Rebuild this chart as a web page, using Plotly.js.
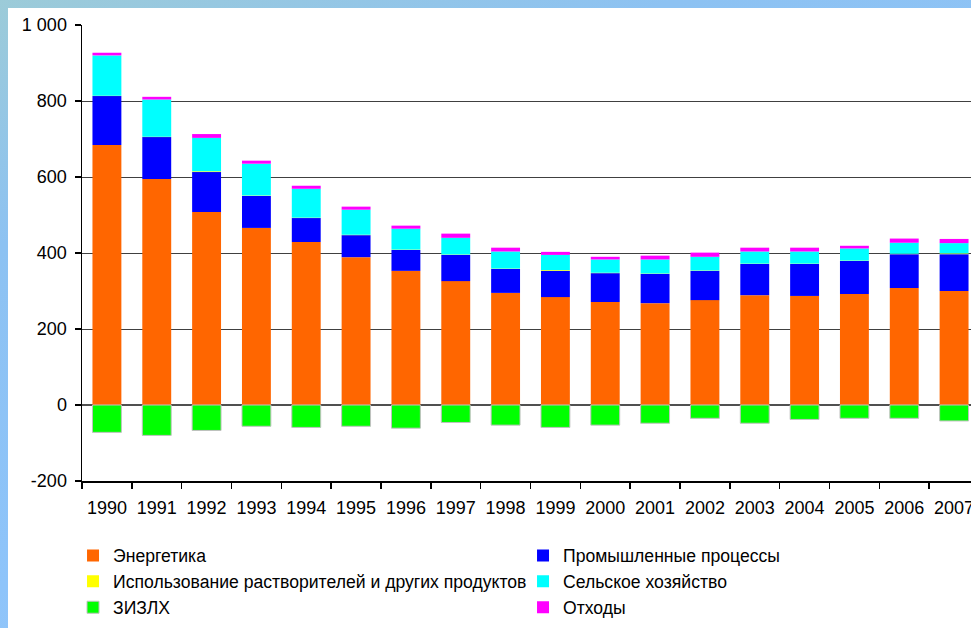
<!DOCTYPE html>
<html>
<head>
<meta charset="utf-8">
<script src="https://cdn.plot.ly/plotly-3.0.1.min.js"></script>
<style>
  html, body {
    margin: 0;
    padding: 0;
    width: 971px;
    height: 628px;
    overflow: hidden;
    background: linear-gradient(160deg, #9ccbd8 0%, #8dc2f2 25%, #8ec4fa 60%, #9fcaf2 100%);
  }
  #chart {
    position: absolute;
    left: 8px;
    top: 8px;
    width: 990px;
    height: 620px;
  }
</style>
</head>
<body>
<div id="chart"></div>
<script>
const years = ['1990', '1991', '1992', '1993', '1994', '1995', '1996', '1997', '1998',
  '1999', '2000', '2001', '2002', '2003', '2004', '2005', '2006', '2007'];

const energy = [684, 595, 508, 466, 429, 389, 353, 326, 295, 284, 271, 268, 276, 289, 287, 292, 308, 300];
const industry = [129, 110, 105, 84, 63, 58, 55, 69, 63, 69, 76, 77, 77, 82, 84, 87, 89, 97];
const solvents = [1, 1, 2, 1, 1, 1, 1, 1, 1, 2, 1, 1, 1, 1, 1, 1, 1, 2];
const agriculture = [106, 98, 88, 84, 76, 66, 55, 44, 45, 40, 35, 37, 36, 32, 32, 32, 29, 27];
const lulucf = [-72, -80, -67, -56, -59, -56, -61, -46, -53, -59, -53, -48, -35, -48, -38, -35, -35, -42];
const waste = [7, 7, 10, 8, 8, 8, 8, 11, 10, 8, 7, 10, 11, 10, 10, 7, 11, 11];

const yTicks = [-200, 0, 200, 400, 600, 800, 1000];
const yTickText = ['-200', '0', '200', '400', '600', '800', '1 000'];

const fontFamily = '"Liberation Sans", Arial, sans-serif';

function barTrace(name, values, color, lineColor) {
  return {
    type: 'bar',
    name: name,
    x: years,
    y: values,
    marker: {
      color: color,
      line: { color: lineColor || color, width: lineColor ? 1 : 0 }
    },
    hoverinfo: 'x+y+name'
  };
}

// order matters: stacking from the bottom and legend reading order (2 per row)
const traces = [
  barTrace('Энергетика', energy, '#FF6600'),
  barTrace('Промышленные процессы', industry, '#0000FF'),
  barTrace('Использование растворителей и других продуктов', solvents, '#FFFF00'),
  barTrace('Сельское хозяйство', agriculture, '#00FFFF'),
  barTrace('ЗИЗЛХ', lulucf, '#00FF00', '#C0C0C0'),
  barTrace('Отходы', waste, '#FF00FF')
];

const layout = {
  width: 990,
  height: 620,
  margin: { l: 74, r: 19, t: 17, b: 147, autoexpand: false },
  paper_bgcolor: '#FFFFFF',
  plot_bgcolor: '#FFFFFF',
  barmode: 'relative',
  bargap: 0.42,
  font: { family: fontFamily, size: 18, color: '#000000' },
  showlegend: true,
  legend: {
    orientation: 'h',
    traceorder: 'normal',
    x: -0.01,
    xanchor: 'left',
    y: -0.124,
    yanchor: 'top',
    entrywidth: 405,
    entrywidthmode: 'pixels',
    font: { family: fontFamily, size: 17.6, color: '#000000' },
    bgcolor: 'rgba(0,0,0,0)'
  },
  xaxis: {
    type: 'category',
    tickson: 'boundaries',
    ticks: 'outside',
    ticklen: 6,
    tickwidth: 1.5,
    tickcolor: '#000000',
    showline: true,
    linecolor: '#000000',
    linewidth: 1.5,
    showgrid: false,
    ticklabelstandoff: 10,
    tickfont: { family: fontFamily, size: 18, color: '#000000' }
  },
  yaxis: {
    range: [-200, 1000],
    tickvals: yTicks,
    ticktext: yTickText,
    ticks: 'outside',
    ticklen: 6,
    tickwidth: 1.5,
    tickcolor: '#000000',
    showline: true,
    linecolor: '#000000',
    linewidth: 1.5,
    showgrid: true,
    gridcolor: '#404040',
    gridwidth: 1,
    zeroline: true,
    zerolinecolor: '#505050',
    zerolinewidth: 1.5,
    ticklabelstandoff: 4,
    tickfont: { family: fontFamily, size: 18, color: '#000000' }
  }
};

Plotly.newPlot('chart', traces, layout, { displayModeBar: false, staticPlot: true });
</script>
</body>
</html>
